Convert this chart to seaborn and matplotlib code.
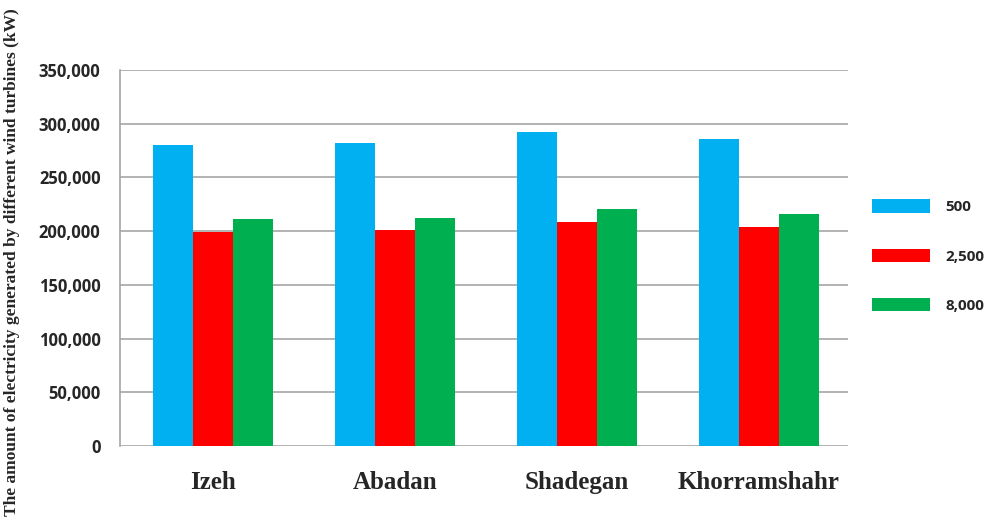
import pandas as pd
import numpy as np
import matplotlib
matplotlib.use("Agg")
import matplotlib.pyplot as plt
import seaborn as sns
from matplotlib.ticker import FuncFormatter

# datos
ciudades = ["Izeh", "Abadan", "Shadegan", "Khorramshahr"]
turbinas = ["500", "2,500", "8,000"]
val_500 = [280200, 281700, 292000, 285500]
val_2500 = [199500, 200700, 208200, 203500]
val_8000 = [211000, 212200, 220300, 215700]
colores = ["#00B0F0", "#FF0000", "#00B050"]

df = pd.DataFrame({
    "ciudad": ciudades * 3,
    "turbina": [turbinas[0]] * 4 + [turbinas[1]] * 4 + [turbinas[2]] * 4,
    "kw": val_500 + val_2500 + val_8000,
})

sns.set_style("white")
fig = plt.figure(figsize=(9.92, 5.23), dpi=100)
ax = fig.add_axes([120 / 992, 1 - 446 / 523, 728 / 992, 376 / 523])

sns.barplot(data=df, x="ciudad", y="kw", hue="turbina", palette=colores,
            width=0.66, saturation=1, linewidth=0, ax=ax, zorder=3)

ax.set_xlim(-0.51, 3.49)
ax.set_ylim(0, 350000)
ax.set_yticks(np.arange(0, 350001, 50000))
ax.yaxis.set_major_formatter(FuncFormatter(lambda v, p: f"{int(v):,}"))
ax.grid(axis="y", color="#A6A6A6", linewidth=1.2, zorder=0)
ax.set_axisbelow(True)
for s in ["top", "right", "bottom"]:
    ax.spines[s].set_visible(False)
ax.spines["left"].set_color("#A6A6A6")
ax.spines["left"].set_linewidth(1.2)
ax.tick_params(axis="y", length=6, color="#A6A6A6", width=1.2, pad=8)
ax.tick_params(axis="x", length=0, pad=18)

for t in ax.get_yticklabels():
    t.set_fontfamily("Open Sans")
    t.set_fontweight("bold")
    t.set_fontsize(12)
for t in ax.get_xticklabels():
    t.set_fontfamily("Liberation Serif")
    t.set_fontweight("bold")
    t.set_fontsize(18)

ax.set_xlabel("")
ax.set_ylabel("The amount of electricity generated by different wind turbines (kW)",
              fontfamily="Liberation Serif", fontweight="bold", fontsize=12.5)
ax.yaxis.set_label_coords(-0.138, 0.49)

leg = ax.legend(title=None, loc="center left", bbox_to_anchor=(1.025, 0.505),
                borderaxespad=0, frameon=False, handlelength=3.8, handleheight=0.95,
                labelspacing=2.25, handletextpad=1.0,
                prop={"family": "Open Sans", "weight": "bold", "size": 11})

plt.savefig("out.png", dpi=100)
plt.close()
